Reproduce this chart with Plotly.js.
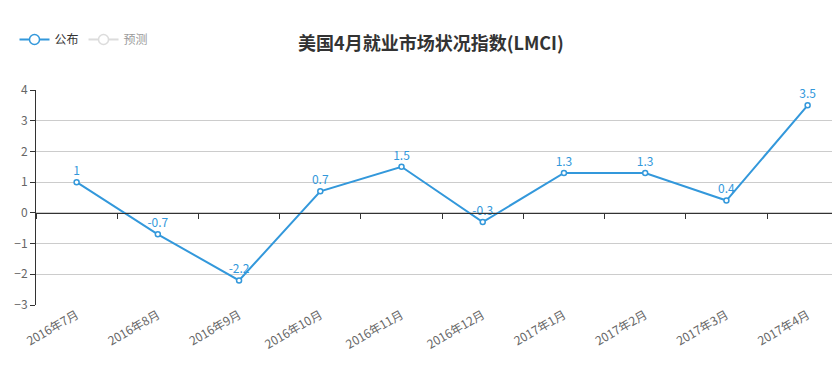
<!DOCTYPE html>
<html><head><meta charset="utf-8">
<script src="https://cdn.plot.ly/plotly-3.0.1.min.js"></script>
<style>html,body{margin:0;padding:0;background:#fff}#chart{width:832px;height:386px}</style>
</head><body><div id="chart"></div>
<script>
const categories = ['2016年7月','2016年8月','2016年9月','2016年10月','2016年11月','2016年12月','2017年1月','2017年2月','2017年3月','2017年4月'];
const published = [1, -0.7, -2.2, 0.7, 1.5, -0.3, 1.3, 1.3, 0.4, 3.5];
const forecast = [null, null, null, null, null, null, null, null, null, null];
const seriesNames = ['公布', '预测'];
const titleText = '美国4月就业市场状况指数(LMCI)';

const blue = '#3398db';
const font = 'Noto Sans CJK SC, Microsoft YaHei, sans-serif';
const xRange = [-0.5, 9.3];

const traces = [
  {
    x: categories, y: published, name: seriesNames[0], type: 'scatter', mode: 'lines+markers+text',
    xaxis: 'x2', yaxis: 'y', showlegend: false,
    line: {color: blue, width: 2},
    marker: {symbol: 'circle', size: 5, color: '#fff', line: {color: blue, width: 1.5}},
    text: published.map(String), textposition: 'top center',
    textfont: {color: blue, size: 12, family: font},
    cliponaxis: false, hoverinfo: 'x+y'
  },
  {
    x: categories, y: forecast, name: seriesNames[0], type: 'scatter', mode: 'lines+markers',
    xaxis: 'x2', yaxis: 'y', hoverinfo: 'skip',
    line: {color: blue, width: 2},
    marker: {symbol: 'circle', size: 10, color: '#fff', line: {color: blue, width: 1.5}}
  },
  {
    x: categories, y: forecast, name: seriesNames[1], type: 'scatter', mode: 'lines+markers',
    xaxis: 'x2', yaxis: 'y', visible: 'legendonly',
    line: {color: '#bbb', width: 2},
    marker: {symbol: 'circle', size: 10, color: '#fff', line: {color: '#bbb', width: 1.5}}
  },
  {
    x: categories, y: published, type: 'scatter', mode: 'markers', xaxis: 'x', yaxis: 'y',
    marker: {opacity: 0}, showlegend: false, hoverinfo: 'skip', cliponaxis: true
  }
];

const layout = {
  width: 832, height: 386,
  margin: {l: 36, r: 0, t: 90, b: 81},
  paper_bgcolor: '#fff', plot_bgcolor: '#fff',
  font: {family: font, size: 12, color: '#666'},
  title: {text: '<b>' + titleText + '</b>', x: 0.518, xanchor: 'center', y: 0.887, yanchor: 'middle',
          font: {family: font, size: 18, color: '#333'}},
  showlegend: true,
  legend: {orientation: 'h', x: -0.027, xanchor: 'left', y: 1.235, yanchor: 'middle',
           font: {family: font, size: 12, color: '#333'}, itemwidth: 30, tracegroupgap: 0},
  xaxis: {
    type: 'category', range: xRange, anchor: 'y', showline: false, showgrid: false, zeroline: false,
    ticks: '', tickangle: -30, tickfont: {family: font, size: 12, color: '#666'}
  },
  xaxis2: {
    type: 'category', range: xRange, overlaying: 'x', anchor: 'free', position: 3/7,
    showline: true, linecolor: '#333', linewidth: 1, showgrid: false, zeroline: false,
    ticks: 'outside', tickson: 'boundaries', ticklen: 5, tickcolor: '#333', showticklabels: false
  },
  yaxis: {
    range: [-3, 4], dtick: 1, showline: true, linecolor: '#333', linewidth: 1,
    ticks: 'outside', ticklen: 5, tickcolor: '#333', gridcolor: '#ccc', zeroline: false,
    tickfont: {family: font, size: 12, color: '#666'}
  }
};

Plotly.newPlot('chart', traces, layout, {displayModeBar: false});
</script></body></html>
